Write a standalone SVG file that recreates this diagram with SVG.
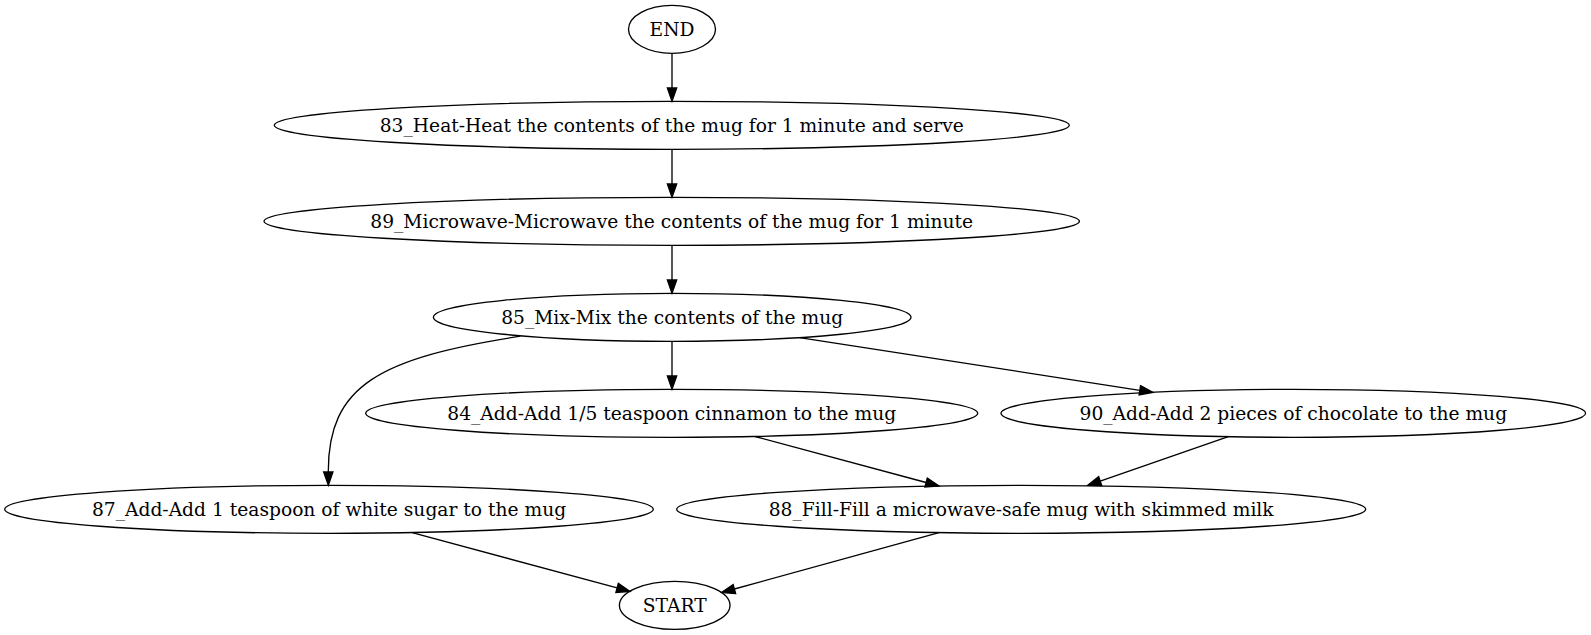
<svg xmlns="http://www.w3.org/2000/svg" width="1591" height="635" viewBox="0 0 1591 635">
<style>
.n ellipse{fill:none;stroke:#000;stroke-width:1.33}
.n text{font-family:"DejaVu Serif","Liberation Serif",serif;font-size:18.67px;text-anchor:middle;fill:#000}
.e path{fill:none;stroke:#000;stroke-width:1.33;marker-end:url(#ah)}
</style>
<defs>
<marker id="ah" markerUnits="userSpaceOnUse" markerWidth="16" markerHeight="12" refX="0" refY="4.67" orient="auto" overflow="visible">
<path d="M0,0 L13.33,4.67 L0,9.33 Z" fill="#000" stroke="#000" stroke-width="1.33"/>
</marker>
</defs>
<rect width="1591" height="635" fill="#fff"/>
<g id="edges" class="e">
<path d="M672,53.3 L672,88"/>
<path d="M672,149.3 L672,184"/>
<path d="M672,245.3 L672,280"/>
<path d="M672,341.3 L672,376"/>
<path d="M799.5,337.6 L1139.8,390.3"/>
<path d="M520.4,336.2 C380,358 328,385 328.3,471.9"/>
<path d="M755,436.5 L926.1,482.5"/>
<path d="M1228.3,436.7 L1100.2,481.1"/>
<path d="M412.2,532.6 L617.1,587.9"/>
<path d="M939,532.6 L734.4,589"/>
</g>
<g id="END" class="n"><ellipse cx="672" cy="29.3" rx="43.5" ry="24"/><text x="672" y="35.5">END</text></g>
<g id="n83" class="n"><ellipse cx="671.8" cy="125.3" rx="397.5" ry="24"/><text x="671.8" y="131.5">83_Heat-Heat the contents of the mug for 1 minute and serve</text></g>
<g id="n89" class="n"><ellipse cx="671.7" cy="221.3" rx="407.7" ry="24"/><text x="671.7" y="227.5">89_Microwave-Microwave the contents of the mug for 1 minute</text></g>
<g id="n85" class="n"><ellipse cx="672.2" cy="317.3" rx="238.8" ry="24"/><text x="672.2" y="323.5">85_Mix-Mix the contents of the mug</text></g>
<g id="n84" class="n"><ellipse cx="671.7" cy="413.3" rx="306" ry="24"/><text x="671.7" y="419.5">84_Add-Add 1/5 teaspoon cinnamon to the mug</text></g>
<g id="n90" class="n"><ellipse cx="1293.3" cy="413.3" rx="292.3" ry="24"/><text x="1293.3" y="419.5">90_Add-Add 2 pieces of chocolate to the mug</text></g>
<g id="n87" class="n"><ellipse cx="329" cy="509.3" rx="324.3" ry="24"/><text x="329" y="515.5">87_Add-Add 1 teaspoon of white sugar to the mug</text></g>
<g id="n88" class="n"><ellipse cx="1021.2" cy="509.3" rx="344.5" ry="24"/><text x="1021.2" y="515.5">88_Fill-Fill a microwave-safe mug with skimmed milk</text></g>
<g id="START" class="n"><ellipse cx="674.7" cy="605.3" rx="55.3" ry="24"/><text x="674.7" y="611.5">START</text></g>
</svg>
